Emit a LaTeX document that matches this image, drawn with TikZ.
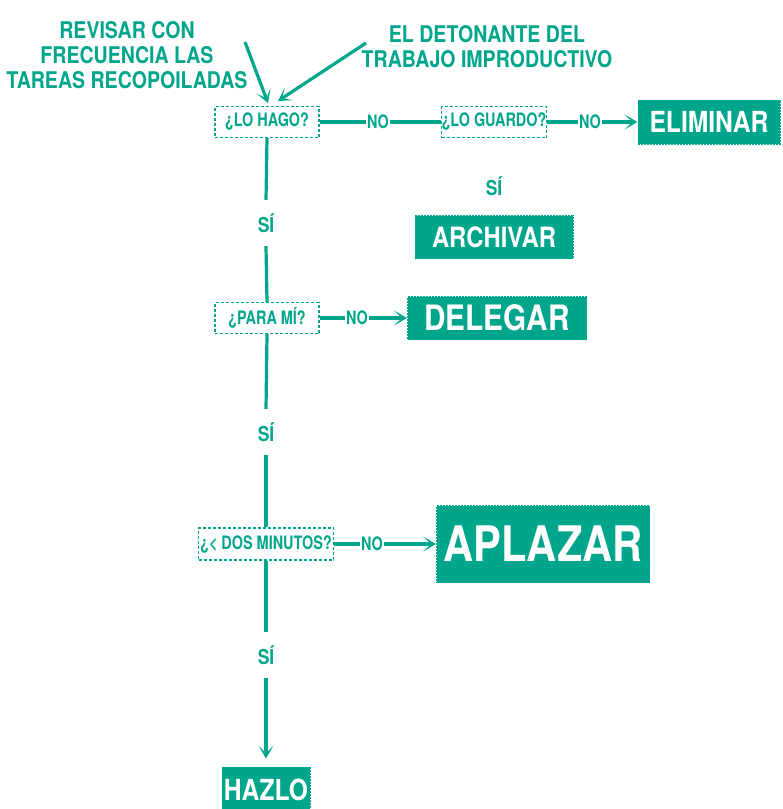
\documentclass[tikz,border=0pt]{standalone}
\usepackage{fontspec}
\setmainfont{TeX Gyre Heros}[FakeStretch=0.85]
\newfontfamily\estrecha{TeX Gyre Heros}[FakeStretch=0.78]
\usepackage{tikz}
\usetikzlibrary{arrows.meta}
\definecolor{verde}{RGB}{0,166,140}
\def\tam#1{\fontsize{#1}{#1}\selectfont\bfseries}
\tikzset{
  pregunta/.style={draw=verde, fill=white, line width=1.2pt, dash pattern=on 3pt off 2pt,
    text=verde, inner sep=0pt, minimum height=31pt, font=\estrecha\tam{18.5}},
  accion/.style={draw=verde, fill=verde, line width=1pt, dash pattern=on 2pt off 1pt,
    text=white, inner sep=0pt},
  rama/.style={text=verde, inner sep=1pt, font=\estrecha\tam{18.5}},
  sirama/.style={text=verde, inner sep=0pt, minimum height=46pt, font=\tam{20.5}},
  linea/.style={line width=3.2pt, color=verde},
  flecha/.style={linea, -{Stealth[length=13pt,width=15pt,inset=8pt]}}
}

\begin{document}
\begin{tikzpicture}[x=1pt, y=-1pt]
			%%%%% START %%%%%
			\useasboundingbox (0, 0) rectangle (783, 809);
			
			\node[text=verde, align=center, font=\tam{23}] (revisar) at (127, 55) {REVISAR CON\\[2pt]FRECUENCIA LAS\\[2pt]TAREAS RECOPOILADAS};
			\node[text=verde, align=center, font=\tam{23}] (detonante) at (487, 47) {EL DETONANTE DEL\\[2pt]TRABAJO IMPRODUCTIVO};
			
			\node[pregunta, minimum width=104pt] (lohago) at (267, 122) {¿LO HAGO?};
			\node[rama] (no1) at (378, 122) {NO};
			\node[pregunta, minimum width=105pt] (loguardo) at (494, 122) {¿LO GUARDO?};
			\node[rama] (no2) at (590, 122) {NO};
			\node[accion, minimum width=142pt, minimum height=44pt, font=\tam{29}] (eliminar) at (709, 122) {ELIMINAR};
			
			\node[sirama] (si0) at (494, 186) {SÍ};
			\node[accion, minimum width=158pt, minimum height=43pt, font=\tam{28}] (archivar) at (494, 237) {ARCHIVAR};
			
			\node[sirama] (si1) at (266, 223) {SÍ};
			\node[pregunta, minimum width=104pt] (parami) at (267, 318) {¿PARA MÍ?};
			\node[rama] (no3) at (357, 318) {NO};
			\node[accion, minimum width=179pt, minimum height=43pt, font=\tam{35}] (delegar) at (497, 318) {DELEGAR};
			
			\node[sirama] (si2) at (266, 432) {SÍ};
			\node[pregunta, minimum width=135pt, minimum height=32pt] (dosmin) at (266, 544) {¿< DOS MINUTOS?};
			\node[rama] (no4) at (372, 544) {NO};
			\node[accion, minimum width=213pt, minimum height=77pt, font=\tam{49}] (aplazar) at (543, 544) {APLAZAR};
			
			\node[sirama] (si3) at (266, 655) {SÍ};
			\node[accion, minimum width=88pt, minimum height=46pt, font=\tam{29}] (hazlo) at (266, 790) {HAZLO};
			
			\coordinate (colarevisar) at (245, 42);
			\coordinate (puntarevisar) at (268, 103);
			\coordinate (coladetonante) at (366, 43);
			\coordinate (puntadetonante) at (278, 101);
			\draw[flecha] (colarevisar) -- (puntarevisar);
			\draw[flecha] (coladetonante) -- (puntadetonante);
			
			\draw[linea] (lohago.east) -- (no1.west);
			\draw[linea] (no1.east) -- (loguardo.west);
			\draw[linea] (loguardo.east) -- (no2.west);
			\draw[flecha] (no2.east) -- (eliminar.west);
			
			\draw[linea] (parami.east) -- (no3.west);
			\draw[flecha] (no3.east) -- (delegar.west);
			\draw[linea] (dosmin.east) -- (no4.west);
			\draw[flecha] (no4.east) -- (aplazar.west);
			
			\draw[linea] (lohago.south) -- (si1.north);
			\draw[linea] (si1.south) -- (parami.north);
			\draw[linea] (parami.south) -- (si2.north);
			\draw[linea] (si2.south) -- (dosmin.north);
			\draw[linea] (dosmin.south) -- (si3.north);
			\draw[flecha, shorten >=8pt] (si3.south) -- (hazlo.north);
			
			%%%%% END %%%%%
		\end{tikzpicture}
\end{document}
